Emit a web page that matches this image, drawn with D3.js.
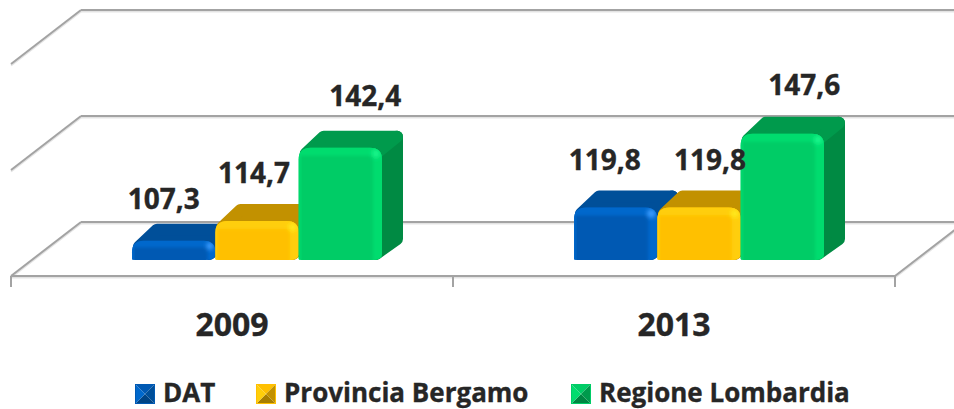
<!DOCTYPE html>
<html><head><meta charset="utf-8">
<script src="https://cdn.jsdelivr.net/npm/d3@7"></script>
<style>html,body{margin:0;background:#fff}svg{display:block}text{font-family:"Open Sans",sans-serif;font-weight:700;fill:#262626;stroke:#262626;stroke-width:.35px}</style>
</head><body><svg id="c" width="954" height="409"></svg>
<script>
const years=["2009","2013"];
const seriesNames=["DAT","Provincia Bergamo","Regione Lombardia"];
const dat=[107.3,119.8];
const provincia=[114.7,119.8];
const lombardia=[142.4,147.6];
const gridTicks=[100,140,180];
const faceColors=["#0059b3","#ffc000","#00cc66"];
const bevelColors=["#0068cc","#ffce0a","#00dc6e"];
const lightColors=["#3a9bff","#ffe81a","#19f58a"];
const topColors=["#004f99","#c29100","#009a4c"];
const sideColors=["#00509f","#b98a00","#008a43"];
const labelNudge=[[[-10,1],[-3,-5],[25,-4]],[[-11,-5],[11,-5],[22,-1]]];
const labelText=v=>d3.format(".1f")(v).replace(".",",");

const svg=d3.select("#c");
const defs=svg.append("defs");
defs.append("filter").attr("id","soft").attr("x","-20%").attr("y","-20%").attr("width","140%").attr("height","140%")
  .append("feGaussianBlur").attr("stdDeviation",1.6);
defs.append("filter").attr("id","blur").attr("x","-100%").attr("y","-100%").attr("width","300%").attr("height","300%")
  .append("feGaussianBlur").attr("stdDeviation",2);

const x=d3.scaleBand().domain(years).range([11,895]);
const inner=d3.scaleBand().domain(seriesNames).range([0,250]);
const y=d3.scaleLinear().domain([100,180]).range([260,48]);
const xShift=x.bandwidth()/2-125+25, frontDrop=16, backRise=38, wallDx=70;
const depthX=21, depthY=17;
const lineCol="#a3a3a3";

function seg(g,x1,y1,x2,y2){
  g.append("line").attr("x1",x1).attr("y1",y1+1.5).attr("x2",x2).attr("y2",y2+1.5).attr("stroke","#ddd").attr("stroke-width",2).attr("opacity",.8);
  g.append("line").attr("x1",x1).attr("y1",y1).attr("x2",x2).attr("y2",y2).attr("stroke",lineCol).attr("stroke-width",2);
}
const grid=svg.append("g");
gridTicks.forEach(t=>{
  const f=y(t)+frontDrop,b=y(t)-backRise;
  seg(grid,x.range()[0],f,x.range()[0]+wallDx,b);
  seg(grid,x.range()[0]+wallDx,b,954,b);
});
const fy=y(gridTicks[0])+frontDrop, by=y(gridTicks[0])-backRise;
seg(grid,x.range()[0],fy,x.range()[1],fy);
seg(grid,x.range()[1],fy,x.range()[1]+wallDx,by);
[x.range()[0],x(years[1]),x.range()[1]].forEach(v=>{
  grid.append("line").attr("x1",v).attr("x2",v).attr("y1",fy).attr("y2",fy+11).attr("stroke",lineCol).attr("stroke-width",2);
});

const allSeries=[dat,provincia,lombardia];
let clipN=0;
function frontPath(x0,x1,yT,yB){
  const r=Math.min(12,(yB-yT)*0.6);
  return `M${x0},${yB-1}V${yT+r}Q${x0},${yT} ${x0+r},${yT}H${x1-r}Q${x1},${yT} ${x1},${yT+r}V${yB-6}Q${x1},${yB} ${x1-10},${yB}H${x0+3}Q${x0},${yB} ${x0},${yB-1}Z`;
}
const bars=svg.append("g");
const labels=svg.append("g");
years.forEach((yr,i)=>{
  seriesNames.forEach((s,k)=>{
    const v=allSeries[k][i];
    const x0=x(yr)+xShift+inner(s), x1=x0+inner.bandwidth();
    const yT=y(v), yB=y(gridTicks[0]);
    const g=bars.append("g");
    const sw=12,h=sw/2;
    const side=[[x1-h,yT+h],[x1+depthX-h,yT-depthY+h],[x1+depthX-h,yB-depthY-h+2],[x1-h,yB-h]];
    g.append("path").attr("d",d3.line()(side)+"Z").attr("fill",sideColors[k]).attr("stroke",sideColors[k]).attr("stroke-width",sw).attr("stroke-linejoin","round");
    const top=[[x0+h+1,yT+h],[x0+depthX+h-2,yT-depthY+h],[x1+depthX-h,yT-depthY+h],[x1-h,yT+h]];
    g.append("path").attr("d",d3.line()(top)+"Z").attr("fill",topColors[k]).attr("stroke",topColors[k]).attr("stroke-width",sw).attr("stroke-linejoin","round");
    const id="clip"+(clipN++);
    const d=frontPath(x0,x1,yT,yB);
    defs.append("clipPath").attr("id",id).append("path").attr("d",d);
    g.append("path").attr("d",d).attr("fill",faceColors[k]);
    const b=g.append("g").attr("clip-path",`url(#${id})`);
    const band=Math.min(8,(yB-yT)*0.35);
    b.append("rect").attr("x",x1-band-1).attr("y",yT-3).attr("width",band+5).attr("height",yB-yT+6).attr("fill",bevelColors[k]).attr("filter","url(#soft)");
    b.append("rect").attr("x",x0-3).attr("y",yT-3).attr("width",x1-x0+6).attr("height",band+3).attr("fill",bevelColors[k]).attr("filter","url(#soft)");
    b.append("rect").attr("x",x0-3).attr("y",yT-3).attr("width",5).attr("height",yB-yT+6).attr("fill",bevelColors[k]).attr("filter","url(#soft)");
    b.append("circle").attr("cx",x1-band/2-2).attr("cy",yT+band/2+2).attr("r",band*0.55).attr("fill",lightColors[k]).attr("filter","url(#blur)");
    labels.append("text").attr("x",(x0+x1)/2+labelNudge[i][k][0]).attr("y",yT-depthY-(k==2?21:16)+labelNudge[i][k][1])
      .attr("text-anchor","middle").attr("font-size",28).text(labelText(v));
  });
});
years.forEach(yr=>{
  svg.append("text").attr("x",x(yr)+x.bandwidth()/2).attr("y",336).attr("text-anchor","middle").attr("font-size",32).text(yr);
});
const legendX=[135,256,571];
const ls=20,ly=384;
seriesNames.forEach((s,k)=>{
  const g=svg.append("g").attr("transform",`translate(${legendX[k]},${ly})`);
  const c=ls/2;
  const tri=[[[0,0],[ls,0],[c,c]],[[0,ls],[ls,ls],[c,c]],[[0,0],[0,ls],[c,c]],[[ls,0],[ls,ls],[c,c]]];
  const fills=[faceColors[k],d3.color(topColors[k]).darker(.4)+"",bevelColors[k],topColors[k]];
  tri.forEach((t,j)=>g.append("path").attr("d",d3.line()(t)+"Z").attr("fill",fills[j]));
  g.append("rect").attr("x",.5).attr("y",.5).attr("width",ls-1).attr("height",ls-1).attr("fill","none").attr("stroke",faceColors[k]);
  g.append("text").attr("x",ls+8).attr("y",17.5).attr("font-size",26).text(s);
});
</script></body></html>
